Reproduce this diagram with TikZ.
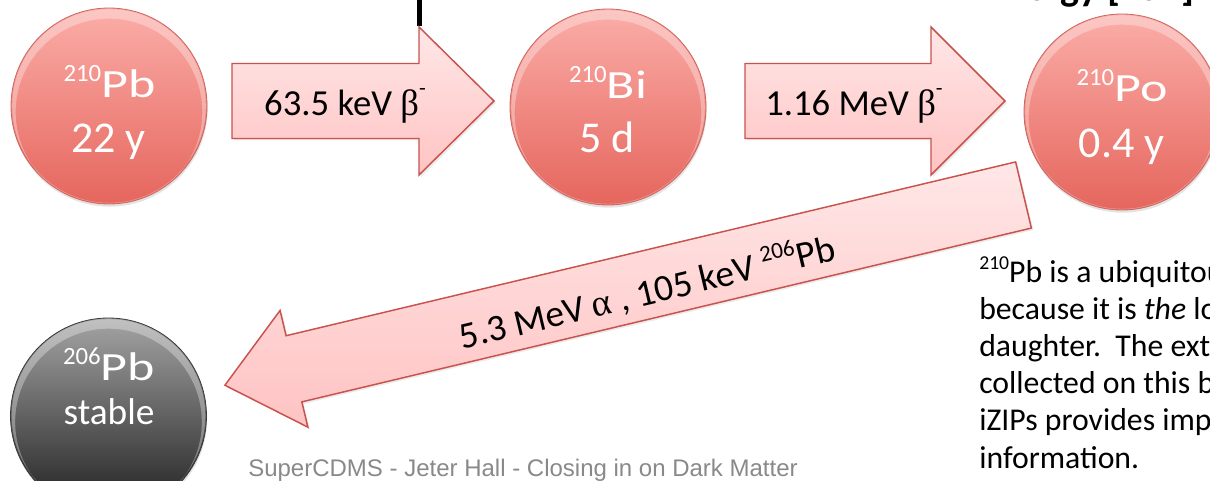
\documentclass[tikz,border=0pt]{standalone}
\usepackage{fontspec}
\setmainfont{Carlito}
\newfontfamily\footfont{Liberation Sans}
\newfontfamily\greekfont{Liberation Serif}
\usetikzlibrary{shadows,calc}

\definecolor{nucTop}{HTML}{FBADA8}
\definecolor{nucBot}{HTML}{E5665D}
\definecolor{nucEdge}{HTML}{CC6760}
\definecolor{stTop}{HTML}{A4A4A4}
\definecolor{stBot}{HTML}{1E1E1E}
\definecolor{stEdge}{HTML}{3A3A3A}
\definecolor{arrTop}{HTML}{FFE7E7}
\definecolor{arrBot}{HTML}{FFC3C3}
\definecolor{arrEdge}{HTML}{C9524C}
\definecolor{footgray}{HTML}{898989}

% mass number as a raised, reduced prefix
\newcommand\massno[1]{\raisebox{0.4em}{\scalebox{0.62}{#1}}}
% element symbols are set slightly wide
\newcommand\elsym[1]{\scalebox{1.3}[1]{#1}}
% superscript minus of the beta sign
\newcommand\minussup{\raisebox{0.55em}{\scalebox{0.6}{-}}}

\tikzset{
  nucleus/.style={circle, inner sep=0pt, minimum size=147pt,
    top color=nucTop, bottom color=nucBot, draw=nucEdge, line width=0.6pt,
    drop shadow={opacity=0.22, shadow xshift=0.5pt, shadow yshift=-2pt}},
  stablenuc/.style={nucleus, top color=stTop, bottom color=stBot, draw=stEdge},
  symtext/.style={anchor=base, text=white, inner sep=0pt,
    font=\fontsize{30pt}{30pt}\selectfont},
  lifetext/.style={anchor=base, text=white, inner sep=0pt,
    font=\fontsize{33pt}{33pt}\selectfont},
  stabletext/.style={anchor=base, text=white, inner sep=0pt,
    font=\fontsize{28pt}{28pt}\selectfont},
  arrowbox/.style={draw=arrEdge, line width=1.1pt, line join=miter,
    top color=arrTop, bottom color=arrBot,
    drop shadow={opacity=0.16, shadow xshift=1.5pt, shadow yshift=-1.5pt}},
  arrowtext/.style={anchor=base, inner sep=0pt, text=black,
    font=\fontsize{27.5pt}{27.5pt}\selectfont},
}

\begin{document}
\begin{tikzpicture}[x=0.75pt,y=-0.75pt]
\useasboundingbox (0,0) rectangle (1210,481);
\begin{scope}
\clip (0,0) rectangle (1210,481);

% heading running off the top edge
\node[anchor=base west, inner sep=0pt,
  font=\bfseries\fontsize{30pt}{30pt}\selectfont] (heading) at (985,0.5) {Energy [keV]};
\fill[black] (416.5,0) rectangle (421.5,26);

% decay arrows
\path[arrowbox] (232,63.5) -- (419,63.5) -- (419,27) -- (494,101)
  -- (419,175) -- (419,138.5) -- (232,138.5) -- cycle;
\path[arrowbox] (745,63.5) -- (931,63.5) -- (931,27) -- (1005,101)
  -- (931,175) -- (931,138.5) -- (745,138.5) -- cycle;

\begin{scope}[shift={(1023.5,195)}, rotate=193.4]
  \coordinate (a1) at (0,-34);
  \coordinate (a2) at (750,-34);
  \coordinate (a3) at (750,-60);
  \coordinate (a4) at (821,0);
  \coordinate (a5) at (750,60);
  \coordinate (a6) at (750,34);
  \coordinate (a7) at (0,34);
\end{scope}
\path[arrowbox] (a1) -- (a2) -- (a3) -- (a4) -- (a5) -- (a6) -- (a7) -- cycle;

% nuclei
\node[nucleus] (pb210) at (109,106) {};
\node[nucleus] (bi210) at (608,107) {};
\node[nucleus] (po210) at (1122,112) {};
\node[stablenuc] (pb206) at (108.5,416) {};

% top gloss on each sphere
\foreach \n in {pb210,bi210,po210,pb206}{
  \begin{scope}
    \clip (\n.center) circle (73pt);
    \fill[white, fill opacity=0.32, even odd rule]
      (\n.center) circle (72.6pt) ([yshift=-4.5pt]\n.center) circle (70pt);
  \end{scope}
}

% nucleus labels
\node[symtext] (pb210sym) at (109.5,98) {\massno{210}\elsym{Pb}};
\node[lifetext] (pb210life) at (108.5,153) {22 y};
\node[symtext] (bi210sym) at (608,99) {\massno{210}\elsym{Bi}};
\node[lifetext] (bi210life) at (607,153) {5 d};
\node[symtext] (po210sym) at (1122,102) {\massno{210}\elsym{Po}};
\node[lifetext] (po210life) at (1121.5,158) {0.4 y};
\node[symtext] (pb206sym) at (109,380) {\massno{206}\elsym{Pb}};
\node[stabletext] (pb206life) at (109,424) {stable};

% arrow labels
\node[arrowtext] (beta1) at (345,116) {63.5 keV {\greekfont β}\minussup};
\node[arrowtext] (beta2) at (854,116) {1.16 MeV {\greekfont β}\minussup};
\node[inner sep=0pt, rotate=13.4, font=\fontsize{28pt}{28pt}\selectfont]
  (alpha) at (647,292) {5.3 MeV {\greekfont α} , 105 keV \massno{206}Pb};

% side note (anchored at the baseline of its last line)
\node[anchor=base west, align=left, inner sep=0pt,
  font=\fontsize{23.8pt}{27.9pt}\selectfont] (note) at (979,468)
  {\massno{210}Pb is a ubiquitous background\\
   because it is \emph{the} long-lived radon\\
   daughter.\ \ The extensive data\\
   collected on this background with\\
   iZIPs provides important\\
   information.};

% footer
\node[anchor=base west, inner sep=0pt, text=footgray,
  font=\footfont\fontsize{18pt}{18pt}\selectfont] (footer) at (248,476)
  {SuperCDMS - Jeter Hall - Closing in on Dark Matter};
\end{scope}
\end{tikzpicture}
\end{document}
